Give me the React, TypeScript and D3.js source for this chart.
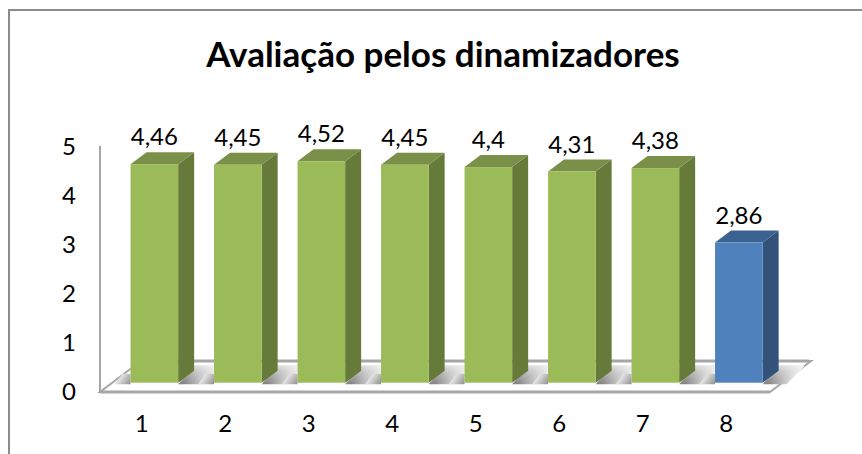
import React from "react";
import { scaleBand, scaleLinear, line } from "d3";

const categories = ["1", "2", "3", "4", "5", "6", "7", "8"];
const values = [4.46, 4.45, 4.52, 4.45, 4.4, 4.31, 4.38, 2.86];
const valueLabels = ["4,46", "4,45", "4,52", "4,45", "4,4", "4,31", "4,38", "2,86"];
const yTicks = [0, 1, 2, 3, 4, 5];
const title = "Avaliação pelos dinamizadores";

const width = 862;
const height = 454;
const font = "Lato, 'Open Sans', sans-serif";

const axisLeft = 100;
const axisRight = 770;
const axisBottom = 392;
const unit = 49;

// 3d offsets: bars stand a little behind the axis plane
const floorDx = 41;
const floorDy = 31;
const barShiftX = 12.6;
const barShiftY = 9.3;
const sideDx = 16;
const sideDy = 12;

const xAxis = scaleBand<string>().domain(categories).range([axisLeft, axisRight - 2]);
const xBars = scaleBand<string>()
  .domain(categories)
  .range([axisLeft + barShiftX, axisRight + barShiftX - 2])
  .paddingInner(0.43)
  .paddingOuter(0.215);
const yAxis = scaleLinear().domain([0, 5]).range([axisBottom, axisBottom - 5 * unit]);
const yBars = (v: number) => yAxis(v) - barShiftY;

const path = line<[number, number]>();
const poly = (pts: [number, number][]) => path(pts) + "Z";

const barColor = (i: number) =>
  i === 7
    ? { front: "#4F81BD", side: "#325279", top: "#3B6291" }
    : { front: "#9BBB59", side: "#667A39", top: "#7A9048" };

export default function App() {
  const base = yBars(0);
  return (
    <svg
      width={width}
      height={height}
      viewBox={`0 0 ${width} ${height}`}
      style={{ position: "absolute", left: 0, top: 0, display: "block", background: "#fff" }}
    >
      <defs>
        {categories.map((c) => {
          const x0 = xBars(c)!;
          const x1 = x0 + xBars.bandwidth();
          return (
            <React.Fragment key={c}>
              <linearGradient id={`shadeR${c}`} gradientUnits="userSpaceOnUse" x1={x1 + 6} y1={base} x2={x1 + 24} y2={base + 14}>
                <stop offset="0" stopColor="#808080" />
                <stop offset="0.6" stopColor="#c8c8c8" />
                <stop offset="1" stopColor="#fff" />
              </linearGradient>
              <linearGradient id={`shadeL${c}`} gradientUnits="userSpaceOnUse" x1={x0 + 2} y1={base} x2={x0 - 12} y2={base - 10}>
                <stop offset="0" stopColor="#8a8a8a" />
                <stop offset="1" stopColor="#fff" />
              </linearGradient>
            </React.Fragment>
          );
        })}
        <linearGradient id="fadeUp" x1="0" y1="1" x2="0" y2="0">
          <stop offset="0" stopColor="#fff" stopOpacity="0" />
          <stop offset="1" stopColor="#fff" stopOpacity="0.75" />
        </linearGradient>
      </defs>

      {/* outer frame, only top and left show */}
      <path d={`M9,454V10H862`} fill="none" stroke="#8c8c8c" strokeWidth={2} />

      {/* floor */}
      <path
        d={poly([
          [axisLeft, axisBottom],
          [axisRight, axisBottom],
          [axisRight + floorDx, axisBottom - floorDy],
          [axisLeft + floorDx, axisBottom - floorDy],
        ])}
        fill="#fff"
        stroke="#a6a6a6"
        strokeWidth={2}
      />
      <line x1={axisLeft + floorDx} x2={axisRight + floorDx - 2} y1={axisBottom - floorDy} y2={axisBottom - floorDy} stroke="#a6a6a6" strokeWidth={3} />
      <line x1={axisLeft} x2={axisRight} y1={axisBottom} y2={axisBottom} stroke="#a6a6a6" strokeWidth={3} />
      <line x1={axisLeft} x2={axisLeft} y1={axisBottom} y2={yAxis(5) - 1} stroke="#a6a6a6" strokeWidth={2} />

      {/* shadows on the floor */}
      {categories.map((c) => {
        const x0 = xBars(c)!;
        const x1 = x0 + xBars.bandwidth();
        const right: [number, number][] = [
          [x1, base + 1.5],
          [x1 + 24, base + 1.5],
          [x1 + 42, base - 17],
          [x1 + 16, base - 17],
        ];
        return (
          <g key={c}>
            <path d={poly(right)} fill={`url(#shadeR${c})`} />
            <path d={poly(right)} fill="url(#fadeUp)" />
            <path
              d={poly([
                [x0 - 16, base + 1.5],
                [x0, base + 1.5],
                [x0, base - 9],
                [x0 - 8, base - 9],
              ])}
              fill={`url(#shadeL${c})`}
            />
          </g>
        );
      })}

      {/* bars */}
      {values.map((v, i) => {
        const c = categories[i];
        const x0 = xBars(c)!;
        const x1 = x0 + xBars.bandwidth();
        const y = yBars(v);
        const col = barColor(i);
        return (
          <g key={c}>
            <path
              d={poly([
                [x1, y],
                [x1 + sideDx, y - sideDy],
                [x1 + sideDx, base - sideDy],
                [x1, base],
              ])}
              fill={col.side}
            />
            <path
              d={poly([
                [x0, y],
                [x0 + sideDx, y - sideDy],
                [x1 + sideDx, y - sideDy],
                [x1, y],
              ])}
              fill={col.top}
            />
            <rect x={x0} y={y} width={x1 - x0} height={base - y} fill={col.front} />
            <text x={(x0 + x1) / 2} y={y - 19} textAnchor="middle" fontFamily={font} fontSize={24} fill="#000">
              {valueLabels[i]}
            </text>
          </g>
        );
      })}

      {/* axis labels */}
      {yTicks.map((t) => (
        <text key={t} x={69} y={yAxis(t) + 8} textAnchor="middle" fontFamily={font} fontSize={24} fill="#000">
          {t}
        </text>
      ))}
      {categories.map((c) => (
        <text key={c} x={xAxis(c)! + xAxis.bandwidth() / 2} y={432} textAnchor="middle" fontFamily={font} fontSize={24} fill="#000">
          {c}
        </text>
      ))}

      <text x={443} y={67} textAnchor="middle" fontFamily={font} fontSize={35} fontWeight={700} fill="#000">
        {title}
      </text>
    </svg>
  );
}
